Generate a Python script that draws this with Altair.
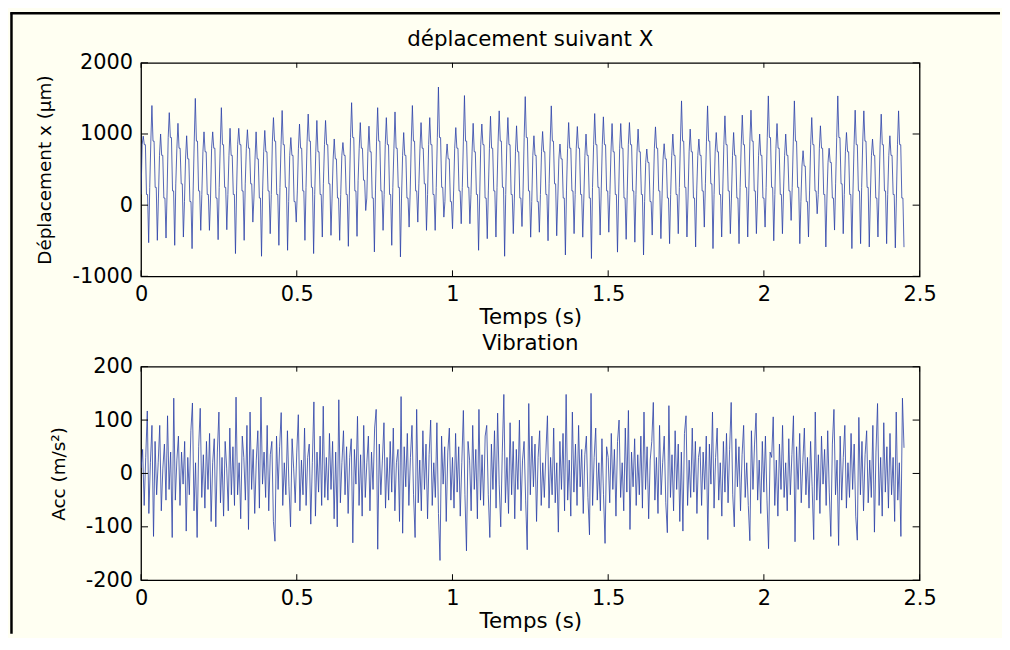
import altair as alt
import pandas as pd

BG = "#FFFFF2"
LINE = "#2A3FA8"
FONT = "DejaVu Sans"

# ---------------- top signal: one row per oscillation cycle
peaks = [970, 1400, 1000, 1300, 1150, 975, 1500, 1030, 1030, 1370, 1080, 1080, 1060, 1030, 1050,
         1230, 1330, 950, 1140, 1280, 1190, 1190, 930, 880, 1440, 1160, 1110, 1370, 1230, 1310,
         1020, 1400, 1160, 1230, 1660, 860, 1090, 1540, 1150, 1140, 1250,
         1325, 1231, 1115, 1525, 975, 1035, 1395, 859, 1161, 1105, 999, 1287, 1241, 1147, 1147,
         1161, 1069, 789, 1100,
         863, 999, 1465, 1069, 929, 1395, 1021, 1255, 1021, 1265, 1335, 999, 1535, 1147, 999,
         1465, 765, 1231, 1115, 800, 1535, 1021, 1335, 1325, 929, 1279, 975, 1325]
troughs = [-527, -494, -462, -564, -448, -611, -354, -354, -485, -345, -680, -494, -238, -718, -401,
           -564, -634, -238, -494, -680, -448, -424, -494, -578, -438, -75, -657, -354, -564, -727,
           -308, -238, -354, -354, -168, -331, -261, -261, -634, -471, -448,
           -718, -400, -300, -450, -380, -500, -430, -700, -400, -450, -750, -420, -380, -660, -480,
           -520, -700, -420, -470,
           -541, -401, -447, -587, -308, -610, -447, -401, -541, -447, -400, -308, -500, -401, -214,
           -541, -447, -121, -587, -350, -401, -610, -541, -587, -447, -541, -600, -590]
upper_steps = [850, 900, 700, 950, 800, 650, 900, 750, 800, 850, 700, 850, 800, 650, 750,
               900, 850, 700, 800, 900, 750, 850, 650, 700, 950, 800, 750, 900, 850, 800,
               700, 900, 800, 850, 950, 650, 800, 900, 750, 850, 800,
               900, 850, 750, 950, 700, 750, 900, 650, 800, 800, 700, 850, 850, 750, 800,
               850, 750, 600, 800,
               650, 700, 900, 750, 700, 900, 750, 850, 700, 850, 900, 700, 950, 800, 700,
               900, 550, 850, 800, 600, 950, 750, 850, 900, 700, 850, 700, 850]
lower_steps = [150, 250, 100, 200, 300, 50, 200, 150, 100, 250, 150, 200, 300, 100, 200,
               150, 250, 50, 200, 250, 150, 300, 100, 150, 200, 350, 100, 200, 150, 250,
               100, 200, 300, 150, 250, 50, 200, 250, 150, 100, 200,
               250, 150, 100, 200, 50, 150, 300, 100, 200, 150, 100, 250, 200, 150, 100,
               200, 150, 50, 200,
               100, 150, 250, 100, 200, 300, 150, 200, 100, 250, 200, 100, 250, 150, 200,
               250, 50, 200, 150, 100, 300, 150, 200, 250, 100, 200, 150, 100]
DT_TOP = 0.003485   # 8 samples per cycle

# ---------------- bottom signal: one row per 0.1 s, 0.005 s apart
acc_rows = [
    [10, 45, -60, 30, 117, -75, 20, 90, -118, 60, -40, 20, 90, -70, 10, 55, -50, 108, -30, 40],
    [-120, 141, -50, 25, 70, -60, 40, -20, 60, -108, 30, -40, 80, 132, -70, 20, -120, 50, 122, -45],
    [35, -65, 60, -30, 75, -90, 20, 65, -100, 40, 115, -55, 30, -80, 60, 10, -70, 85, -40, 50],
    [-60, 143, -40, 20, -85, 70, 30, -50, 90, -105, 115, -30, 45, -75, 25, 80, -65, 143, -20, 40],
    [-45, 90, -70, 35, 60, -90, -127, 70, -30, 50, 114, -60, 20, -40, 80, -25, -100, 65, 10, -55],
    [40, 110, -70, 25, -40, 85, -60, 30, 55, -95, 20, 134, -80, 40, -35, 70, -60, 126, -45, 30],
    [-50, 75, -30, 60, -85, 40, -100, 138, -55, 20, 80, -40, 50, -75, 30, 65, -130, 45, -20, 107],
    [-60, 35, -80, 90, -45, 20, 70, -70, 40, -30, 85, 120, -142, 55, -40, 25, 95, -65, 30, -50],
    [60, -35, 85, -70, 20, 45, -90, 144, -112, 50, -25, 75, -60, 30, 90, -40, -120, 120, -55, 25],
    [-70, 80, -30, 55, -85, 35, 100, -60, 20, -45, 95, -75, -163, 70, -20, 50, -90, 40, 85, -50],
    [30, -65, 75, -35, 50, -80, 20, 118, -40, -145, 60, 25, -70, 90, -30, 45, -85, 120, -50, 35],
    [-60, 70, 90, -40, -120, 55, -30, 80, -65, 113, -20, -100, 40, 148, -55, 30, -75, 95, -40, 60],
    [-85, 45, -30, 100, -70, 25, 60, -50, -143, 131, -40, 70, -25, 55, -90, 30, 80, -60, 20, -45],
    [40, 108, -65, 30, -40, 85, -55, 20, -110, 60, -30, 75, -70, 148, -50, 25, -80, 115, -35, 55],
    [-60, 90, -25, 45, -75, 35, 70, -45, -115, 150, -60, 30, 85, -50, 20, -70, 65, -40, -131, 50],
    [30, -55, 75, -30, 45, -80, 60, 100, -45, 20, -70, 85, -35, 118, -105, 40, -25, 65, -60, 35],
    [-40, 70, -65, 115, -30, 50, -85, 25, 60, 133, -50, 30, -75, 90, -40, 20, 70, -55, -111, 127],
    [-45, 35, -70, 80, -30, 55, -90, 40, -108, 75, 108, -60, 25, -45, 85, -35, 60, -75, 30, 50],
    [-60, 40, -30, 70, -124, 55, -20, 115, -65, 30, 85, -50, 20, -80, 60, -35, 75, -55, 45, 133],
    [-40, -100, 65, -25, 50, -70, 35, 90, -45, 20, -60, -126, 80, -30, 55, 113, -50, 25, -75, 60],
    [-35, 70, -50, -141, 40, 30, 106, -60, 25, -80, 55, -30, 90, -45, 20, -70, 65, -40, 35, 108],
    [-128, 50, -30, 75, -55, 20, 85, -40, 30, -65, 60, -25, -124, 115, -50, 35, -75, 70, -20, 45],
    [-60, 80, -35, -118, 55, 120, -40, 25, -135, 70, -50, 30, 90, -65, 20, -45, 75, -30, 55, -80],
    [-125, 105, -40, 60, -70, 35, 80, -55, 25, -45, 90, -110, 40, 131, -60, 30, -80, 95, -35, 50],
    [-65, 75, -40, 30, -90, 115, -50, 20, -118, 141, 48],
]
DT_ACC = 0.005

x_ticks = [0, 0.5, 1, 1.5, 2, 2.5]
disp_ticks = [-1000, 0, 1000, 2000]
acc_ticks = [-200, -100, 0, 100, 200]

# ---------------- tables (each cycle: rise, peak, hold on the upper step, lower step, trough)
disp_vals = []
for lo, up, pk, tr in zip(lower_steps, upper_steps, peaks, troughs):
    disp_vals += [lo, up, pk, up, up, lo, lo, tr]
disp_df = pd.DataFrame({"t": [i * DT_TOP for i in range(len(disp_vals))], "v": disp_vals})

acc_vals = [v for row in acc_rows for v in row]
acc_df = pd.DataFrame({"t": [i * DT_ACC for i in range(len(acc_vals))], "v": acc_vals})

W, H = 784, 215
one = pd.DataFrame({"k": [0]})


def panel(df, ydomain, yticks, ytitle, ytitle_pad, title_text, with_border):
    xs = alt.Scale(domain=[0, 2.5], nice=False, zero=False)
    ys = alt.Scale(domain=ydomain, nice=False, zero=False)
    x_axis = alt.Axis(values=x_ticks, title="Temps (s)", labelExpr="'' + datum.value",
                      labelPadding=7.5, titlePadding=2, titleFontSize=21.5,
                      labelFlush=False, labelOverlap=False)
    y_axis = alt.Axis(values=yticks, title=ytitle, labelExpr="'' + datum.value",
                      labelPadding=8.5, titlePadding=ytitle_pad, titleFontSize=18.5,
                      labelFlush=False, labelOverlap=False)
    line = alt.Chart(df).mark_line(color=LINE, strokeWidth=0.8, clip=True).encode(
        x=alt.X("t:Q", scale=xs, axis=x_axis),
        y=alt.Y("v:Q", scale=ys, axis=y_axis),
    )
    xt = pd.DataFrame({"t": x_ticks})
    yt = pd.DataFrame({"v": yticks})
    tick_b = alt.Chart(xt).mark_rule(color="black", strokeWidth=1).encode(
        x=alt.X("t:Q", scale=xs, axis=x_axis), y=alt.value(H - 6), y2=alt.value(H))
    tick_t = alt.Chart(xt).mark_rule(color="black", strokeWidth=1).encode(
        x=alt.X("t:Q", scale=xs, axis=x_axis), y=alt.value(0), y2=alt.value(5))
    tick_l = alt.Chart(yt).mark_rule(color="black", strokeWidth=1).encode(
        y=alt.Y("v:Q", scale=ys, axis=y_axis), x=alt.value(0), x2=alt.value(7))
    tick_r = alt.Chart(yt).mark_rule(color="black", strokeWidth=1).encode(
        y=alt.Y("v:Q", scale=ys, axis=y_axis), x=alt.value(W - 7), x2=alt.value(W))
    title = alt.Chart(pd.DataFrame({"s": [title_text]})).mark_text(
        font=FONT, fontSize=21.5, color="black", align="center", baseline="alphabetic"
    ).encode(x=alt.value(W / 2), y=alt.value(-17), text="s:N")
    layers = [line, tick_b, tick_t, tick_l, tick_r, title]
    if with_border:
        left = alt.Chart(one).mark_rule(color="black", strokeWidth=2.5).encode(
            x=alt.value(-130.5), y=alt.value(-51), y2=alt.value(575))
        top = alt.Chart(one).mark_rule(color="black", strokeWidth=2.5).encode(
            x=alt.value(-131.5), x2=alt.value(865), y=alt.value(-50))
        layers += [left, top]
    return alt.layer(*layers).properties(width=W, height=H)


top_panel = panel(disp_df, [-1000, 2000], disp_ticks, "Déplacement x (µm)", 18,
                  "déplacement suivant X", True)
bottom_panel = panel(acc_df, [-200, 200], acc_ticks, "Acc (m/s²)", 17, "Vibration", False)

chart = alt.vconcat(top_panel, bottom_panel, spacing=91, bounds="flush").properties(
    padding=0, background=BG
).configure_view(
    stroke="black", strokeWidth=1.3, fill=BG
).configure_axis(
    domain=False, ticks=False, grid=False,
    labelFont=FONT, labelFontSize=21, labelColor="black",
    titleFont=FONT, titleFontWeight="normal", titleColor="black",
)

chart.save("out.html", embed_options={"renderer": "svg", "actions": False})
